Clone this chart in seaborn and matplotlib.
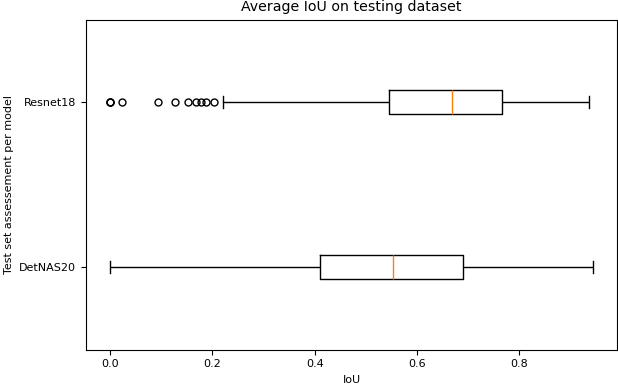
import pandas as pd
import matplotlib
matplotlib.use("Agg")
import matplotlib.pyplot as plt
import seaborn as sns

# IoU par image du jeu de test
models = ["Resnet18", "DetNAS20"]

resnet18_iou = [
    0.0, 0.0, 0.0, 0.023, 0.093, 0.126, 0.153, 0.168, 0.178, 0.188, 0.204,
    0.220, 0.5445,
    0.552, 0.561, 0.573, 0.584, 0.596, 0.607, 0.619, 0.630, 0.642, 0.651, 0.660,
    0.6676,
    0.675, 0.684, 0.692, 0.701, 0.709, 0.718, 0.727, 0.735, 0.744, 0.752, 0.760,
    0.766,
    0.774, 0.785, 0.797, 0.808, 0.820, 0.833, 0.847, 0.862, 0.878, 0.896, 0.915,
    0.936,
]

detnas20_iou = [
    0.0, 0.12, 0.23, 0.31, 0.37,
    0.4096, 0.44, 0.47, 0.50, 0.53,
    0.554, 0.58, 0.61, 0.64, 0.67,
    0.690, 0.74, 0.79, 0.84, 0.89,
    0.944,
]

df = pd.DataFrame({
    "model": ["Resnet18"] * len(resnet18_iou) + ["DetNAS20"] * len(detnas20_iou),
    "IoU": resnet18_iou + detnas20_iou,
})

fig, ax = plt.subplots(figsize=(6.18, 3.84), dpi=100)
fig.subplots_adjust(left=86 / 618, right=617 / 618, top=1 - 19.5 / 384, bottom=1 - 349.5 / 384)

sns.boxplot(
    data=df, x="IoU", y="model", order=models, ax=ax,
    width=0.15, fill=False, color="black", linewidth=1, whis=1.5,
    medianprops=dict(color="#ff7f0e", linewidth=1),
    flierprops=dict(marker="o", markerfacecolor="none", markeredgecolor="black",
                    markersize=5, markeredgewidth=1),
)

ax.set_title("Average IoU on testing dataset", fontsize=10.2)
ax.set_xlabel("IoU", fontsize=8)
ax.set_ylabel("Test set assessement per model", fontsize=8)
ax.tick_params(labelsize=8)

plt.savefig("out.png", dpi=100)
